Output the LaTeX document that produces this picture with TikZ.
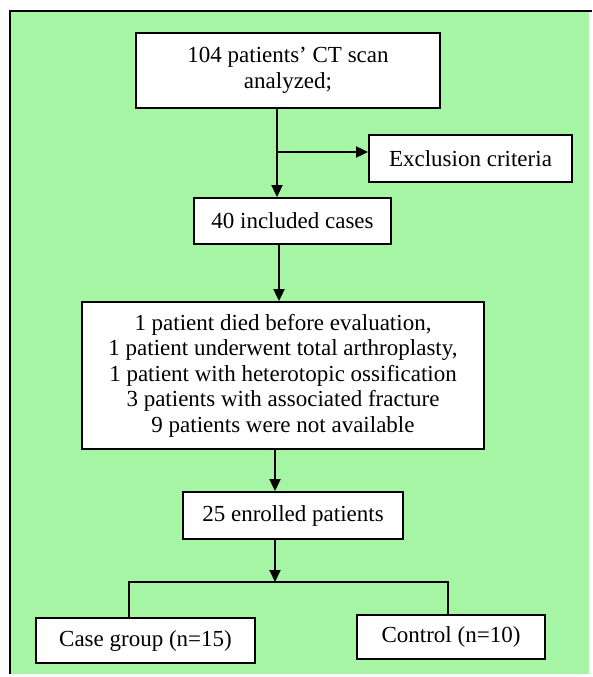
\documentclass[tikz,border=0pt]{standalone}
\usepackage{fontspec}
\setmainfont{Liberation Serif}
\usetikzlibrary{arrows.meta}
\definecolor{bggreen}{RGB}{165,245,165}
\tikzset{
  box/.style={draw=black, line width=1.8pt, fill=white, align=center, inner sep=0pt,
    font=\fontsize{23}{25.5}\selectfont},
  conn/.style={draw=black, line width=1.8pt},
  arr/.style={conn, -{Triangle[length=12pt,width=11pt]}}
}
\begin{document}
\begin{tikzpicture}[x=1pt,y=-1pt]
\useasboundingbox (0,0) rectangle (592,677);
\fill[white] (0,0) rectangle (592,677);
\fill[bggreen] (10,11) rectangle (589,674);
\draw[line width=2.2pt] (10,674) -- (10,11) -- (592,11);

\node[box, minimum width=304pt, minimum height=75pt] (top) at (288,70.5)
  {104 patients’ CT scan\\analyzed;};
\node[box, minimum width=203pt, minimum height=47pt] (excl) at (470.5,158.5)
  {Exclusion criteria};
\node[box, minimum width=197pt, minimum height=46pt] (incl) at (292.5,221)
  {40 included cases};
\node[box, minimum width=402pt, minimum height=147pt] (big) at (283,375.5)
  {1 patient died before evaluation,\\
   1 patient underwent total arthroplasty,\\
   1 patient with heterotopic ossification\\
   3 patients with associated fracture\\
   9 patients were not available};
\node[box, minimum width=220pt, minimum height=47pt] (enr) at (293,515.5)
  {25 enrolled patients};
\node[box, minimum width=219pt, minimum height=45pt] (case) at (145.5,640.5)
  {Case group (n=15)};
\node[box, minimum width=188pt, minimum height=44pt] (ctrl) at (451,637)
  {Control (n=10)};

\coordinate (c1) at (277,152);
\coordinate (c2) at (279,0);
\coordinate (c3) at (275,0);
\coordinate (split) at (275,582);
\coordinate (sl) at (129,582);
\coordinate (sr) at (448,582);

\draw[arr] (top.south -| c1) -- (incl.north -| c1);
\draw[arr] (c1) -- (excl.west |- c1);
\draw[arr] (incl.south -| c2) -- (big.north -| c2);
\draw[arr] (big.south -| c3) -- (enr.north -| c3);
\draw[arr] (enr.south -| c3) -- (split);
\draw[conn] (case.north -| sl) -- (sl) -- (sr) -- (ctrl.north -| sr);
\end{tikzpicture}
\end{document}
